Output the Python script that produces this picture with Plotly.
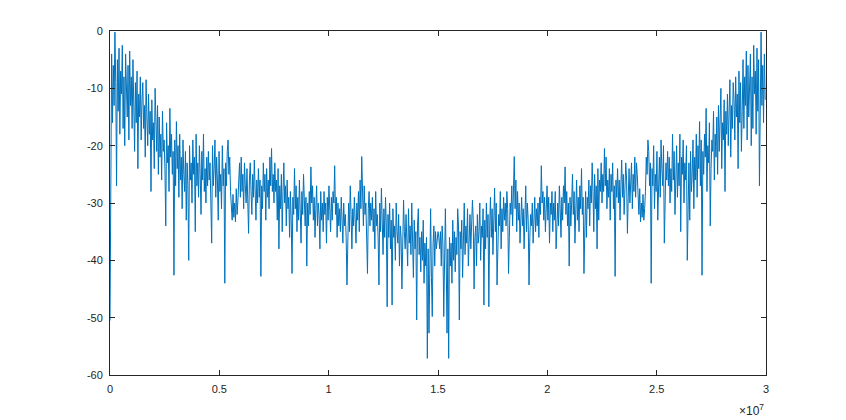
import plotly.graph_objects as go

# Two-sided FFT magnitude (dB) - values read for bins 0..N/2; spectrum is mirror-symmetric
N_BINS = 800
FS = 3e7
half_db = [
    -50.5, -12, -4, -16, -6, -13, -0.2, -9, -27, -5, -14, -3, -18, -7, -11, -2.5, -17, -8, -20, -4,
    -10, -15, -6, -19, -3.5, -13, -8, -17, -5, -14, -21, -9, -16, -7, -24, -11, -15, -8, -19, -12,
    -9, -17, -13, -22, -8.5, -15, -20, -11, -18, -14, -28, -12, -19, -16, -24, -10, -17, -21, -13, -25,
    -15, -22, -18, -26, -14, -21, -19, -24, -34, -16, -23, -20, -28, -13.5, -22, -18, -25, -21, -42.6, -19,
    -27, -15.8, -24, -20, -29, -18, -26, -22, -31, -19, -25, -28, -21, -33, -23, -27, -40, -20, -26, -23,
    -30, -19, -25, -22, -35, -18, -27, -23, -29, -20, -25, -32, -21, -26, -18, -28, -24, -30, -22, -27,
    -21, -26, -23, -30, -37, -20, -27, -24, -19, -29, -22, -26, -33, -21, -28, -25, -31, -20, -27, -24,
    -44, -23, -27, -21, -19, -25, -22, -28, -31, -33, -28.5, -32.5, -30, -33.3, -27.5, -32, -29.5, -25, -23, -29,
    -22, -28, -25, -31, -23, -27, -30, -24, -29, -35.3, -26, -23, -28, -32, -25, -29, -22.5, -27, -33, -26,
    -30, -24, -29, -26, -42.8, -27, -31, -23, -28, -25, -33, -24, -29, -26, -31, -22, -27, -20.5, -28, -25,
    -30, -23, -28, -26, -33, -24, -38, -27, -31, -25, -35, -28, -23, -30, -27, -34, -26, -31, -29, -36,
    -28, -33, -42.3, -29, -32, -24, -31, -27, -35, -29, -33, -26, -31, -37, -28, -32, -25, -30, -34, -29,
    -41, -30, -34, -28, -32, -23.7, -30, -27, -33, -29, -36, -31, -27, -34, -30, -32, -38, -28, -33, -30,
    -35, -28, -32, -30, -37, -29, -33, -27, -31, -35, -29, -33, -28, -30, -23.5, -32, -29, -36, -30, -34,
    -31, -35, -29, -33, -37, -30, -34, -32, -36, -44.3, -33, -30, -35, -27, -32, -38, -31, -34, -29, -33,
    -37, -30, -33, -28, -35, -26, -31, -21.9, -29, -34, -27, -32, -30, -36, -42.3, -31, -28, -34, -30, -33,
    -29, -35, -31, -38, -28, -34, -32, -36, -44.3, -30, -35, -27.4, -33, -39, -31, -36, -29, -34, -48.1, -32,
    -36, -30, -38, -33, -47.8, -31, -36, -34, -40, -30, -35, -37, -32, -41, -34, -36, -45, -33, -29.5, -35,
    -38, -32, -36, -41, -31, -37, -34, -39, -30, -36, -43, -33, -38, -35, -50.4, -34, -31, -39, -36, -42,
    -35, -40, -33, -44, -37, -41, -36, -57.1, -38, -52.7, -40, -31, -43, -49.8, -37, -34, -41, -35, -38, -36,
    -35,
]
x_tick_vals = [0, 0.5e7, 1e7, 1.5e7, 2e7, 2.5e7, 3e7]
x_tick_text = ["0", "0.5", "1", "1.5", "2", "2.5", "3"]
y_tick_vals = [0, -10, -20, -30, -40, -50, -60]
y_tick_text = ["0", "-10", "-20", "-30", "-40", "-50", "-60"]

spectrum_db = half_db + half_db[-2:0:-1]
freq = [k * FS / N_BINS for k in range(len(spectrum_db))]

AX = "#262626"
FONT = dict(family="Liberation Sans, Arial, sans-serif", size=11, color=AX)
fig = go.Figure(go.Scatter(x=freq, y=spectrum_db, mode="lines",
                           line=dict(color="#0072BD", width=1), hoverinfo="skip"))

common = dict(showline=True, linecolor=AX, linewidth=1, mirror="allticks",
              ticks="inside", ticklen=5, tickcolor=AX, tickwidth=1,
              showgrid=False, zeroline=False, automargin=False, tickfont=FONT)
fig.update_xaxes(range=[0, 3e7], tickvals=x_tick_vals, ticktext=x_tick_text,
                 ticklabelstandoff=4, **common)
fig.update_yaxes(range=[-60, 0], tickvals=y_tick_vals, ticktext=y_tick_text,
                 ticklabelstandoff=4, **common)

fig.add_annotation(x=1, y=-0.102, xref="paper", yref="paper", xanchor="right", yanchor="middle",
                   text="×10<sup>7</sup>", showarrow=False,
                   font=dict(family="Liberation Sans, Arial, sans-serif", size=12, color=AX))

# page body has an 8px margin, so the figure is sized/offset to put the axes where the reference has them
fig.update_layout(width=838, height=412, margin=dict(l=102, r=80, t=23, b=45),
                  paper_bgcolor="white", plot_bgcolor="white", showlegend=False)
fig.write_html("out.html")
